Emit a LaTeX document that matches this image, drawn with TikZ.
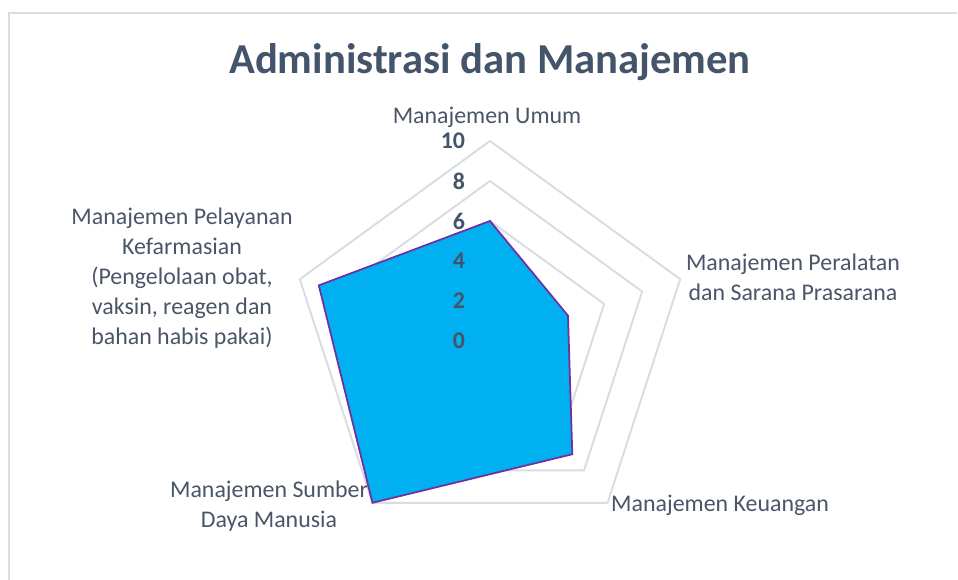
\documentclass[tikz,border=0pt]{standalone}
\usepackage{fontspec}
\setmainfont{Carlito}
\usetikzlibrary{calc}
\usetikzlibrary{positioning}

\definecolor{titlegray}{HTML}{44546A}
\definecolor{labelgray}{HTML}{4A5568}
\definecolor{gridgray}{HTML}{D9DCE3}
\definecolor{chartblue}{HTML}{00B0F0}
\definecolor{chartpurple}{HTML}{7030A0}

\begin{document}
\begin{tikzpicture}
[
x=0.02cm, y=0.02cm,
% 文字の余白
every node/.style={inner sep=0, outer sep=0},
% タイトル
title/.style={font=\bfseries\fontsize{24.3}{30}\selectfont, text=titlegray},
% 軸ラベル
axislabel/.style={font=\fontsize{13.6}{17}\selectfont, text=labelgray, align=center},
% 目盛り
tick/.style={font=\bfseries\fontsize{13.6}{16}\selectfont, text=titlegray, anchor=east},
% 格子
grid/.style={draw=gridgray, line width=1.1pt},
% データ
data/.style={fill=chartblue, draw=chartpurple, line width=1pt, line join=miter}
]
\useasboundingbox (0,0) rectangle (958,580);
% 枠
\draw [gridgray, line width=0.8pt] (9,0) -- (9,567) -- (957,567);

% 中心
\coordinate (C) at (490,239);

% 格子の配置
\foreach \v in {2,4,...,10}
  \draw [grid] ($(C)+(90:20*\v)$) -- ($(C)+(18:20*\v)$) -- ($(C)+(-54:20*\v)$)
  -- ($(C)+(-126:20*\v)$) -- ($(C)+(162:20*\v)$) -- cycle;

% データ点
\coordinate (umum) at ($(C)+(90:20*6)$);
\coordinate (alat) at ($(C)+(18:20*4.1)$);
\coordinate (uang) at ($(C)+(-54:20*7)$);
\coordinate (sdm) at ($(C)+(-126:20*10)$);
\coordinate (farmasi) at ($(C)+(162:20*9)$);
\draw [data] (umum) -- (alat) -- (uang) -- (sdm) -- (farmasi) -- cycle;

% 目盛り
\foreach \v in {0,2,...,10}
  \node [tick] (t\v) at ($(C)+(-25,20*\v)$) {\v};

% タイトル
\node [title] (judul) at (490,518) {Administrasi dan Manajemen};

% 軸ラベル
\node [axislabel] (lumum) at (487,463) {Manajemen Umum};
\node [axislabel] (lalat) at (793,303) {Manajemen Peralatan\\dan Sarana Prasarana};
\node [axislabel] (luang) at (720,75) {Manajemen Keuangan};
\node [axislabel] (lsdm) at (269,74) {Manajemen Sumber\\Daya Manusia};
\node [axislabel] (lfarmasi) at (182,302) {Manajemen Pelayanan\\Kefarmasian\\(Pengelolaan obat,\\vaksin, reagen dan\\bahan habis pakai)};
\end{tikzpicture}
\end{document}
